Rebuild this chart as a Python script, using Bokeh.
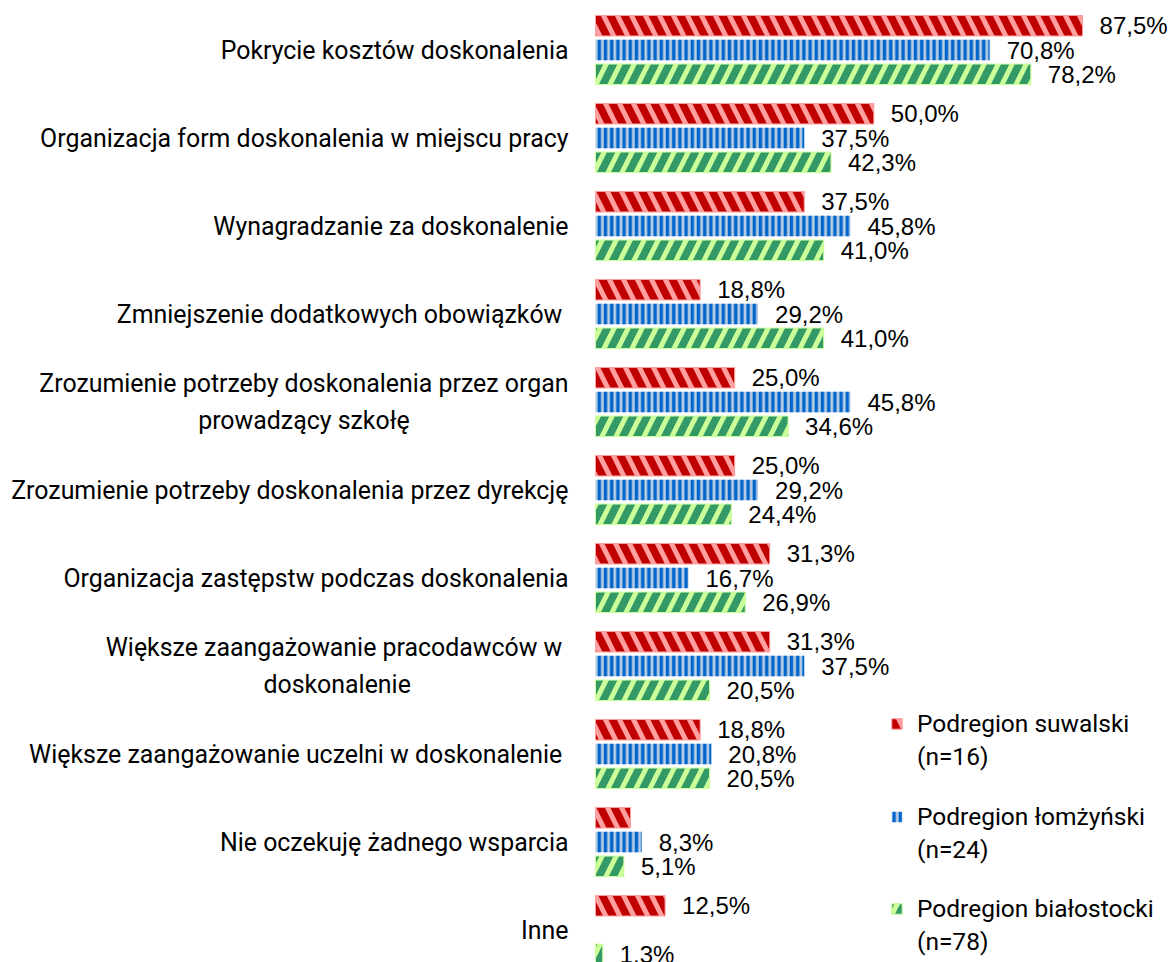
from bokeh.plotting import figure
from bokeh.models import Range1d, ColumnDataSource, Legend, LegendItem
from bokeh.core.properties import value
from bokeh.embed import file_html
from bokeh.resources import INLINE

categories = [
    "Pokrycie kosztów doskonalenia",
    "Organizacja form doskonalenia w miejscu pracy",
    "Wynagradzanie za doskonalenie",
    "Zmniejszenie  dodatkowych obowiązków",
    "Zrozumienie potrzeby doskonalenia przez organ\nprowadzący szkołę",
    "Zrozumienie potrzeby doskonalenia przez dyrekcję",
    "Organizacja zastępstw podczas doskonalenia",
    "Większe zaangażowanie pracodawców w \ndoskonalenie",
    "Większe zaangażowanie uczelni w doskonalenie ",
    "Nie oczekuję żadnego wsparcia",
    "Inne",
]
series_names = ["Podregion suwalski", "Podregion łomżyński", "Podregion białostocki"]
series_n = ["(n=16)", "(n=24)", "(n=78)"]
suwalski = [87.5, 50.0, 37.5, 18.8, 25.0, 25.0, 31.3, 31.3, 18.8, 6.3, 12.5]
lomzynski = [70.8, 37.5, 45.8, 29.2, 45.8, 29.2, 16.7, 37.5, 20.8, 8.3, 0.0]
bialostocki = [78.2, 42.3, 41.0, 41.0, 34.6, 24.4, 26.9, 20.5, 20.5, 5.1, 1.3]
suwalski_labels = ["87,5%", "50,0%", "37,5%", "18,8%", "25,0%", "25,0%", "31,3%", "31,3%", "18,8%", "", "12,5%"]
lomzynski_labels = ["70,8%", "37,5%", "45,8%", "29,2%", "45,8%", "29,2%", "16,7%", "37,5%", "20,8%", "8,3%", ""]
bialostocki_labels = ["78,2%", "42,3%", "41,0%", "41,0%", "34,6%", "24,4%", "26,9%", "20,5%", "20,5%", "5,1%", "1.3%"]

W, H = 1173, 962
p = figure(width=W, height=H, output_backend="svg", toolbar_location=None,
           x_range=Range1d(-106.88, 103.83), y_range=Range1d(10.369, -0.5625),
           min_border=0, min_border_left=0, min_border_right=0, min_border_top=0, min_border_bottom=0)
p.axis.visible = False
p.grid.visible = False
p.outline_line_color = None

styles = [
    dict(fill_color="#C00000", hatch_color="#FF9F9F", hatch_pattern="\\", hatch_scale=28, hatch_weight=5, line_color="#FF9F9F"),
    dict(fill_color="#B8CCE4", hatch_color="#0066CC", hatch_pattern="|", hatch_scale=6.2, hatch_weight=3.4, line_color=None),
    dict(fill_color="#339966", hatch_color="#CCFF99", hatch_pattern="/", hatch_scale=28, hatch_weight=5, line_color="#CCFF99"),
]
offsets = [-0.276, 0.0, 0.276]
series = [suwalski, lomzynski, bialostocki]
labels = [suwalski_labels, lomzynski_labels, bialostocki_labels]

renderers = []
for vals, labs, off, st in zip(series, labels, offsets, styles):
    ys = [i + off for i in range(len(categories))]
    src = ColumnDataSource(dict(y=ys, right=vals, lab=labs))
    r = p.hbar(y="y", right="right", left=0, height=0.233, source=src, line_width=1, **st)
    renderers.append(r)
    p.text(x="right", y="y", text="lab", source=src, x_offset=17, text_align="left",
           text_baseline="middle", text_font=value("Liberation Sans"), text_font_size="24px",
           text_color="#000000")

csrc = ColumnDataSource(dict(x=[-4.85] * len(categories), y=list(range(len(categories))), t=categories))
p.text(x="x", y="y", text="t", source=csrc, anchor="center_right", text_align="center",
       text_baseline="middle", text_font=value("Roboto"), text_font_size="24.9px",
       text_color="#000000", text_line_height=1.27)

dummy = p.hbar(y=[], right=[], left=0, height=0.1, fill_alpha=0, line_alpha=0)
legend_bottoms = [191.5, 98.5, 6.5]
for name, n, r, yb in zip(series_names, series_n, renderers, legend_bottoms):
    lg = Legend(items=[LegendItem(label=name, renderers=[r]), LegendItem(label=n, renderers=[dummy])],
                location=(890, yb), orientation="vertical",
                label_text_font="Roboto", label_text_font_size="24.5px", label_text_color="#000000",
                glyph_width=13, glyph_height=13, label_standoff=14, label_height=29,
                spacing=4, padding=0, margin=0,
                border_line_alpha=0, background_fill_alpha=0)
    p.add_layout(lg)

open("out.html", "w").write(file_html(p, INLINE))
